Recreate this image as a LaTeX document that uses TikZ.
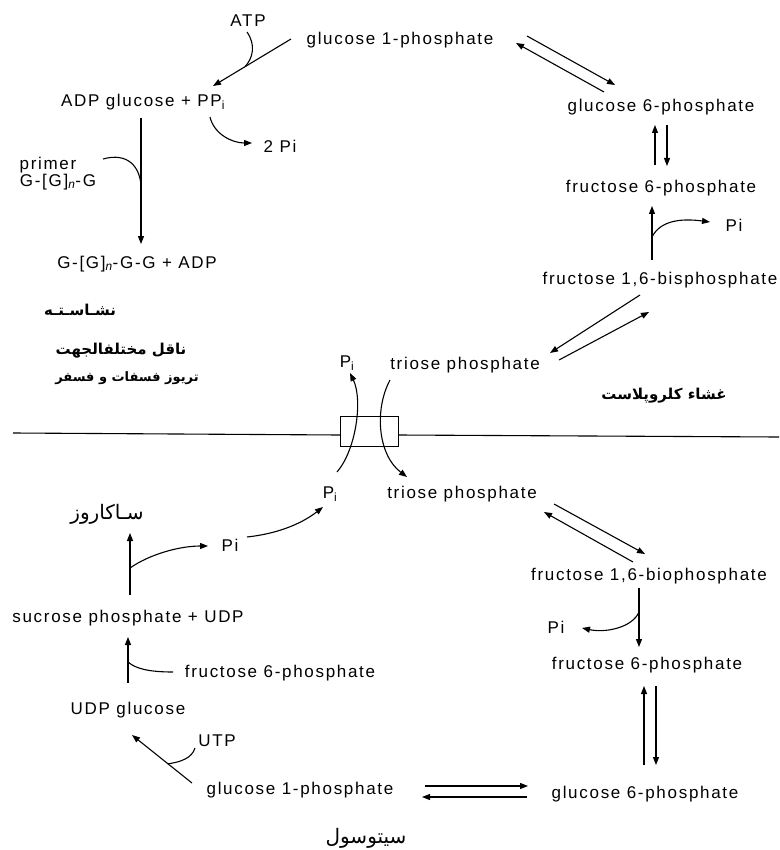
\documentclass[tikz,border=0pt]{standalone}
\usepackage{fontspec}
\setmainfont{Liberation Sans}[LetterSpace=10]
\newfontfamily\arabicfont[Script=Arabic]{DejaVu Sans}
\TeXXeTstate=1
\usetikzlibrary{arrows.meta}
\newcommand{\fa}[1]{\arabicfont\beginR #1\endR}
\begin{document}
\begin{tikzpicture}[x=1pt,y=-1pt,
  every node/.style={inner sep=0pt,font=\fontsize{17}{20}\selectfont},
  lbl/.style={anchor=center},
  falbl/.style={anchor=center,font=\fontsize{15}{18}\selectfont\bfseries},
  fabig/.style={anchor=center,font=\fontsize{20}{24}\selectfont},
  rxn/.style={line width=1.1pt,-{Triangle[length=8pt,width=6pt]}},
  plain/.style={line width=1.1pt}]
\useasboundingbox (0,0) rectangle (779,850);

% ---------- chloroplast stroma ----------
\node[lbl] (atp) at (248,21) {ATP};
\node[lbl] (g1pA) at (400,40) {glucose 1-phosphate};
\node[lbl] (adpg) at (143,102) {ADP glucose + PP\textsubscript{i}};
\node[lbl] (twopi) at (280,146) {2 Pi};
\node[lbl] (primer) at (48,165) {primer};
\node[lbl] (gnG) at (58,182) {G-[G]\textsubscript{\itshape n}-G};
\node[lbl] (gnGG) at (137,264) {G-[G]\textsubscript{\itshape n}-G-G + ADP};
\node[falbl] (starch) at (80,310) {\fa{نشـاسـتـه}};
\node[falbl] (antiport) at (121,351) {\fa{ناقل مختلفالجهت}};
\node[falbl,font=\fontsize{13}{16}\selectfont\bfseries] (tpexch) at (127,378) {\fa{تریوز فسفات و فسفر}};

\node[lbl] (g6pA) at (661,107) {glucose 6-phosphate};
\node[lbl] (f6pA) at (661,188) {fructose 6-phosphate};
\node[lbl] (piA) at (734,225) {Pi};
\node[lbl] (f16bpA) at (660,280) {fructose 1,6-bisphosphate};
\node[lbl] (tpA) at (465,365) {triose phosphate};
\node[lbl] (piTop) at (347,363) {P\textsubscript{i}};
\node[falbl] (membr) at (664,396) {\fa{غشاء کلروپلاست}};

% ---------- cytosol ----------
\node[lbl] (piBot) at (330,494) {P\textsubscript{i}};
\node[lbl] (tpB) at (462,494) {triose phosphate};
\node[lbl] (f16bpB) at (649,576) {fructose 1,6-biophosphate};
\node[lbl] (piB) at (556,627) {Pi};
\node[lbl] (f6pB) at (647,665) {fructose 6-phosphate};
\node[lbl] (g6pB) at (645,794) {glucose 6-phosphate};
\node[lbl] (g1pB) at (300,790) {glucose 1-phosphate};
\node[lbl] (udpg) at (128,710) {UDP glucose};
\node[lbl] (utp) at (217,741) {UTP};
\node[lbl] (f6pC) at (280,673) {fructose 6-phosphate};
\node[lbl] (sucp) at (128,618) {sucrose phosphate + UDP};
\node[fabig] (sucrose) at (107,514) {\fa{سـاکاروز}};
\node[lbl] (piC) at (230,545) {Pi};
\node[fabig] (cytosol) at (366,838) {\fa{سیتوسول}};

% ---------- connector end points ----------
\coordinate (a1s) at (291,39);  \coordinate (a1e) at (213,86);
\coordinate (atpS) at (247,32); \coordinate (atpJ) at (245,66.7);
\coordinate (ppS) at (210,117); \coordinate (ppE) at (252,143);
\coordinate (stS) at (141,118); \coordinate (stE) at (141,244);
\coordinate (prS) at (103,159); \coordinate (prJ) at (141,186);
\coordinate (gA1s) at (527,36);  \coordinate (gA1e) at (615,85);
\coordinate (gA2s) at (604,92);  \coordinate (gA2e) at (516,43);
\coordinate (vA1s) at (655,165); \coordinate (vA1e) at (655,125);
\coordinate (vA2s) at (667,125); \coordinate (vA2e) at (667,166);
\coordinate (fbS) at (652,260);  \coordinate (fbE) at (652,206);
\coordinate (fbJ) at (652,237);  \coordinate (fbP) at (710,222);
\coordinate (dA1s) at (640,295); \coordinate (dA1e) at (550,353);
\coordinate (dA2s) at (559,360); \coordinate (dA2e) at (649,312);
\coordinate (mL) at (13,433);    \coordinate (mR) at (779,437);
\coordinate (boxNW) at (340,416); \coordinate (boxSE) at (398,446);
\coordinate (boxW) at (340,435); \coordinate (boxE) at (398,435);
\coordinate (tPiS) at (337,472); \coordinate (tPiE) at (350,373);
\coordinate (tTpS) at (390,380); \coordinate (tTpE) at (407,477);
\coordinate (dB1s) at (554,504); \coordinate (dB1e) at (645,554);
\coordinate (dB2s) at (633,562); \coordinate (dB2e) at (544,512);
\coordinate (fdS) at (639,588);  \coordinate (fdE) at (639,647);
\coordinate (fdJ) at (639,612);  \coordinate (fdP) at (582,628);
\coordinate (vB1s) at (644,765); \coordinate (vB1e) at (644,686);
\coordinate (vB2s) at (656,686); \coordinate (vB2e) at (656,765);
\coordinate (hB1s) at (425,786); \coordinate (hB1e) at (528,786);
\coordinate (hB2s) at (527,797); \coordinate (hB2e) at (422,797);
\coordinate (ugS) at (192,783);  \coordinate (ugE) at (132,735);
\coordinate (utpS) at (195,748); \coordinate (utpJ) at (168,763.8);
\coordinate (usS) at (128,683);  \coordinate (usE) at (128,637);
\coordinate (f6S) at (173,672);  \coordinate (f6J) at (128,662);
\coordinate (ssS) at (130,595);  \coordinate (ssE) at (130,533);
\coordinate (ssJ) at (130,568);  \coordinate (ssP) at (208,546);
\coordinate (ppiS) at (247,537); \coordinate (ppiE) at (323,507);

% ---------- starch synthesis ----------
\draw[rxn] (a1s) -- (a1e);
\draw[plain] (atpS) .. controls (256,45) and (253,58) .. (atpJ);
\draw[rxn] (ppS) .. controls (214,134) and (232,143) .. (ppE);
\draw[rxn] (stS) -- (stE);
\draw[plain] (prS) .. controls (128,152) and (140,167) .. (prJ);

% ---------- chloroplast interconversions ----------
\draw[rxn] (gA1s) -- (gA1e);
\draw[rxn] (gA2s) -- (gA2e);
\draw[rxn] (vA1s) -- (vA1e);
\draw[rxn] (vA2s) -- (vA2e);
\draw[rxn] (fbS) -- (fbE);
\draw[rxn] (fbJ) .. controls (660,221) and (680,218) .. (fbP);
\draw[rxn] (dA1s) -- (dA1e);
\draw[rxn] (dA2s) -- (dA2e);

% ---------- membrane and antiporter ----------
\draw[plain] (mL) -- (boxW);
\draw[plain] (boxE) -- (mR);
\draw[line width=1pt] (boxNW) rectangle (boxSE);
\draw[rxn] (tPiS) .. controls (356,450) and (363,400) .. (tPiE);
\draw[rxn] (tTpS) .. controls (374,410) and (378,455) .. (tTpE);

% ---------- cytosol pathway ----------
\draw[rxn] (dB1s) -- (dB1e);
\draw[rxn] (dB2s) -- (dB2e);
\draw[rxn] (fdS) -- (fdE);
\draw[rxn] (fdJ) .. controls (632,628) and (605,633) .. (fdP);
\draw[rxn] (vB1s) -- (vB1e);
\draw[rxn] (vB2s) -- (vB2e);
\draw[rxn] (hB1s) -- (hB1e);
\draw[rxn] (hB2s) -- (hB2e);
\draw[rxn] (ugS) -- (ugE);
\draw[plain] (utpS) .. controls (192,758) and (181,762) .. (utpJ);
\draw[rxn] (usS) -- (usE);
\draw[plain] (f6S) .. controls (150,672) and (136,669) .. (f6J);
\draw[rxn] (ssS) -- (ssE);
\draw[rxn] (ssJ) .. controls (150,554) and (180,546) .. (ssP);
\draw[rxn] (ppiS) .. controls (275,534) and (300,525) .. (ppiE);
\end{tikzpicture}
\end{document}
